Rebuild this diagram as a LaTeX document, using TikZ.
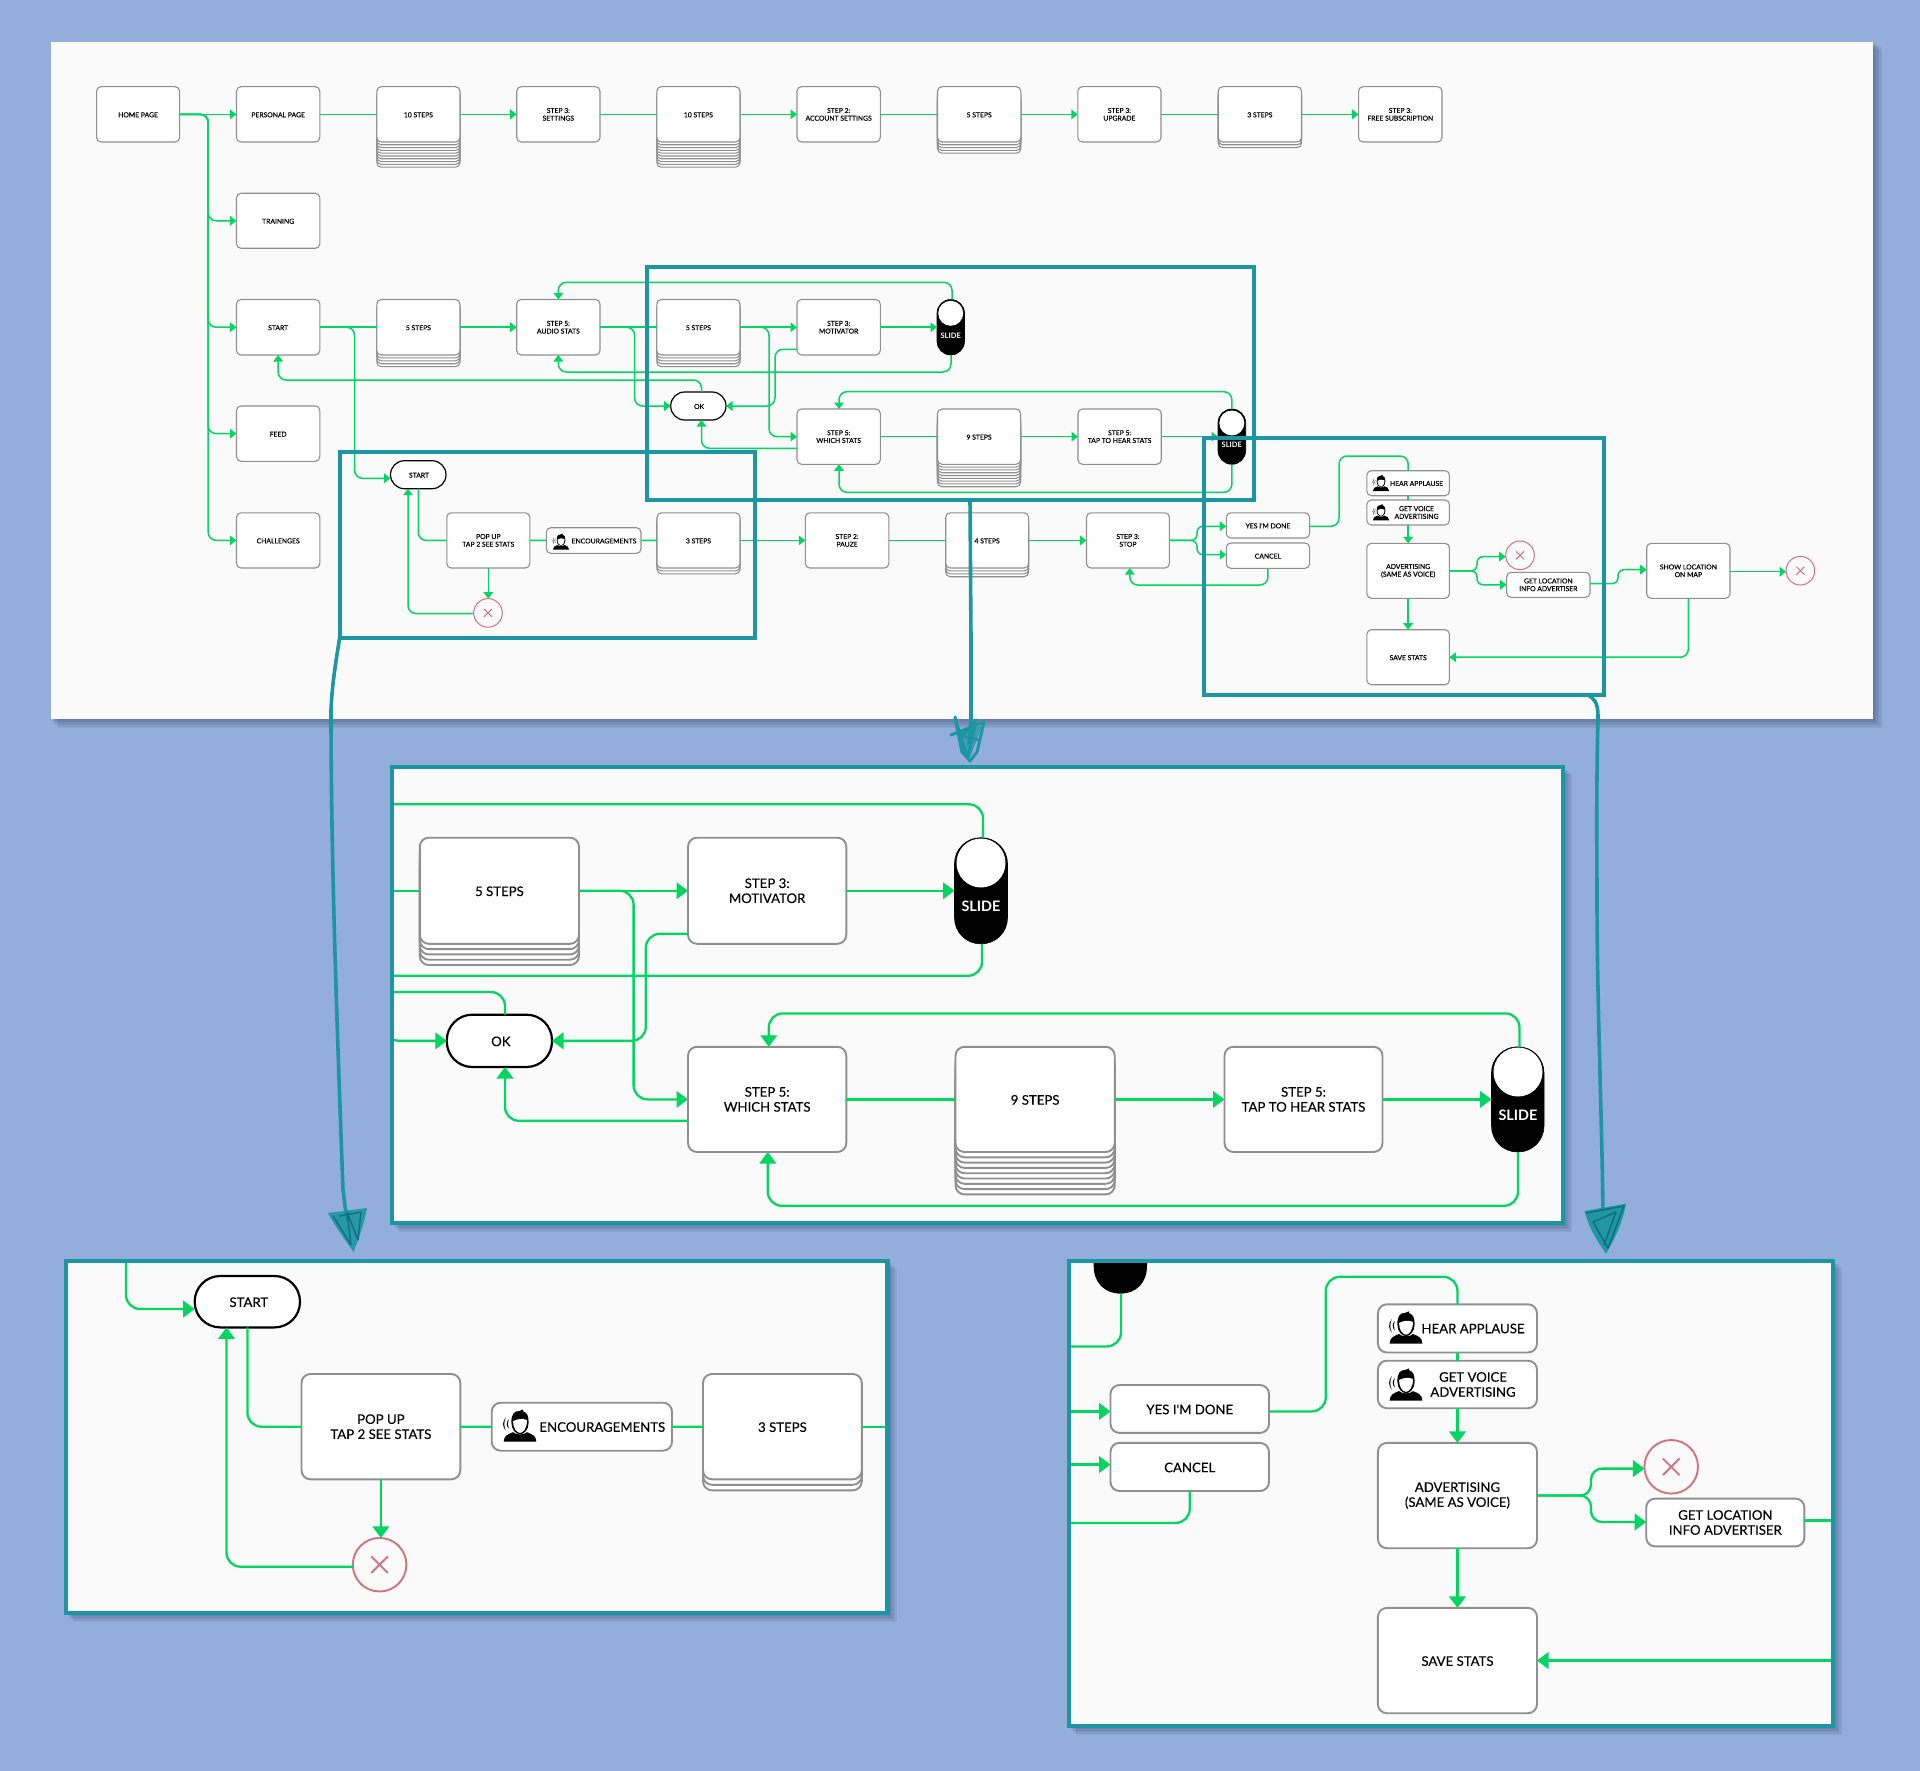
\documentclass[tikz,border=0pt]{standalone}
\usepackage{fontspec}
\setmainfont{Lato}
\newfontfamily\smfont[FakeBold=0.3]{Lato}
\newfontfamily\bgfont[FakeBold=0.15]{Lato}
\usetikzlibrary{arrows.meta}
\definecolor{bgblue}{HTML}{94AEDC}
\definecolor{shadowc}{HTML}{2E3F66}
\definecolor{panelc}{HTML}{FAFAFA}
\definecolor{tealc}{HTML}{1B96A2}
\definecolor{tealdark}{HTML}{0F6F7C}
\definecolor{greenc}{HTML}{02D660}
\definecolor{grayc}{HTML}{8F8F8F}
\definecolor{redc}{HTML}{D2727C}
\tikzset{
  smalltxt/.style={font=\smfont\fontsize{6.8}{7.7}\selectfont,align=center,text=black,execute at begin node={\rule{0pt}{5.9pt}}},
  bigtxt/.style={font=\bgfont\fontsize{13.2}{15}\selectfont,align=center,text=black,execute at begin node={\rule{0pt}{10.6pt}}},
  slidesmall/.style={font=\bfseries\fontsize{7.5}{8}\selectfont,text=white,inner sep=0pt},
  slidebig/.style={font=\bfseries\fontsize{14.4}{15}\selectfont,text=white,inner sep=0pt},
  anybox/.style={draw=grayc,fill=white,inner sep=0pt,outer sep=0pt,rectangle},
  smallbox/.style={anybox,smalltxt,line width=1.1pt,rounded corners=4.5pt},
  bigbox/.style={anybox,bigtxt,line width=1.9pt,rounded corners=9pt},
  smallpill/.style={draw=black,fill=white,inner sep=0pt,outer sep=0pt,rectangle,smalltxt,line width=1.2pt,rounded corners=13.9pt},
  bigpill/.style={draw=black,fill=white,inner sep=0pt,outer sep=0pt,rectangle,bigtxt,line width=2.2pt,rounded corners=25.5pt},
  smallslide/.style={draw=black,fill=black,inner sep=0pt,outer sep=0pt,rectangle,rounded corners=13.7pt,line width=.6pt},
  bigslide/.style={draw=black,fill=black,inner sep=0pt,outer sep=0pt,rectangle,rounded corners=26pt,line width=.6pt},
  knob/.style={circle,fill=white,draw=none,inner sep=0pt,outer sep=0pt},
  smallred/.style={circle,draw=redc,fill=panelc,line width=1pt,inner sep=0pt,outer sep=0pt,minimum size=28.6pt},
  bigred/.style={circle,draw=redc,fill=panelc,line width=1.9pt,inner sep=0pt,outer sep=0pt,minimum size=53.6pt},
  sl/.style={draw=greenc,line width=1.5pt,rounded corners=8pt},
  sa/.style={sl,-{Triangle[length=6.5pt,width=9.5pt]}},
  bl/.style={draw=greenc,line width=2.3pt,rounded corners=14pt},
  ba/.style={bl,-{Triangle[length=11.5pt,width=16.5pt]}},
  hand/.style={draw=tealc,line width=3.6pt,fill=none},
  handthin/.style={draw=tealc,line width=3pt,fill=none},
  frame/.style={draw=tealc,line width=3.8pt},
  panelnode/.style={rectangle,fill=panelc,draw=none,inner sep=0pt,outer sep=0pt},
  person/.pic={
    \fill[black] (-16.3,16) .. controls (-16.3,10) and (-12,8.5) .. (-7,6.5) .. controls (-4,9.5) and (4,9.5) .. (7,6.5) .. controls (12,8.5) and (16.3,10) .. (16.3,16) -- cycle;
    \fill[black] (-8.6,-3) .. controls (-9,-12) and (-5,-15) .. (-1,-14.6) -- (3,-16.2) -- (3.2,-14.4) .. controls (7,-13) and (8.8,-10) .. (8.6,-3) .. controls (8.6,4) and (4,8.6) .. (0,8.6) .. controls (-4,8.6) and (-8.6,4) .. (-8.6,-3) -- cycle;
    \fill[white] (-6.9,-4.5) .. controls (-3.5,-6.5) and (2.5,-8) .. (6.9,-5.6) .. controls (7.2,2.5) and (3,7.2) .. (0,7.2) .. controls (-3,7.2) and (-7.2,2.5) .. (-6.9,-4.5) -- cycle;
    \fill[black] (-11.2,-6.5) .. controls (-14,-3.5) and (-14,0) .. (-11.2,3) .. controls (-12.6,0) and (-12.6,-3.5) .. (-11.2,-6.5) -- cycle;
    \fill[black] (-14.2,-8.5) .. controls (-17.8,-4) and (-17.8,1) .. (-14.2,5) .. controls (-16.2,1) and (-16.2,-4) .. (-14.2,-8.5) -- cycle;
  },
}
\newcommand{\bx}[7]{\node[#1,minimum width=#5pt-#3pt,minimum height=#6pt-#4pt] (#2) at ({(#3+#5)/2},{(#4+#6)/2}) {#7};}
\newcommand{\stk}[7]{\foreach \k in {#6,...,1} {\draw[#1] (#2,{#3+\k*#7}) rectangle (#4,{#5+\k*#7});}}
\newcommand{\shad}[4]{\foreach \i in {1,...,6} {\fill[shadowc,opacity=.085] ({#1+\i*1.1},{#2+\i*1.1}) rectangle ({#3+\i*1.5},{#4+\i*1.5});}}
\begin{document}
\begin{tikzpicture}[x=1pt,y=-1pt]
\useasboundingbox (0,0) rectangle (1920,1771);
\fill[bgblue] (0,0) rectangle (1920,1771);
% ---- shadows and panels
\shad{51}{42}{1873}{719}
\shad{392}{767}{1563}{1223}
\shad{66}{1261}{887.5}{1613}
\shad{1069}{1261}{1833}{1726}
\node[panelnode,minimum width=1822pt,minimum height=677pt] (ptop) at (962,380.5) {};
\node[panelnode,minimum width=1171pt,minimum height=456pt] (pm) at (977.5,995) {};
\node[panelnode,minimum width=821.5pt,minimum height=352pt] (pl) at (476.75,1437) {};
\node[panelnode,minimum width=764pt,minimum height=465pt] (pr) at (1451,1493.5) {};
% ---- overview: row 1
\bx{smallbox}{home}{96.6}{86.7}{179.6}{142}{HOME PAGE}
\bx{smallbox}{personal}{236.5}{86.7}{319.8}{142}{PERSONAL PAGE}
\stk{smallbox}{376.8}{86.7}{460}{142}{9}{2.8}
\bx{smallbox}{tena}{376.8}{86.7}{460}{142}{10 STEPS}
\bx{smallbox}{settings}{516.7}{86.7}{600}{142}{STEP 3:\\SETTINGS}
\stk{smallbox}{656.8}{86.7}{740}{142}{9}{2.8}
\bx{smallbox}{tenb}{656.8}{86.7}{740}{142}{10 STEPS}
\bx{smallbox}{account}{797}{86.7}{880.3}{142}{STEP 2:\\ACCOUNT SETTINGS}
\stk{smallbox}{937.5}{86.7}{1020.8}{142}{4}{2.8}
\bx{smallbox}{fivea}{937.5}{86.7}{1020.8}{142}{5 STEPS}
\bx{smallbox}{upgrade}{1077.8}{86.7}{1161}{142}{STEP 3:\\UPGRADE}
\stk{smallbox}{1218.2}{86.7}{1301.5}{142}{2}{2.8}
\bx{smallbox}{threea}{1218.2}{86.7}{1301.5}{142}{3 STEPS}
\bx{smallbox}{free}{1358.6}{86.7}{1442}{142}{STEP 3:\\FREE SUBSCRIPTION}
% column 2
\bx{smallbox}{training}{236.5}{193.3}{319.8}{248.3}{TRAINING}
\bx{smallbox}{startn}{236.5}{299.5}{319.8}{355}{START}
\bx{smallbox}{feed}{236.5}{406}{319.8}{461.3}{FEED}
\bx{smallbox}{challenges}{236.5}{512.8}{319.8}{568}{CHALLENGES}
% row 3
\stk{smallbox}{376.8}{299.5}{460}{355}{4}{2.9}
\bx{smallbox}{fiveb}{376.8}{299.5}{460}{355}{5 STEPS}
\bx{smallbox}{audio}{516.7}{299.5}{600}{355}{STEP 5:\\AUDIO STATS}
\stk{smallbox}{656.8}{299.5}{740}{355}{4}{2.9}
\bx{smallbox}{fivec}{656.8}{299.5}{740}{355}{5 STEPS}
\bx{smallbox}{motivator}{797}{299.5}{880.3}{355}{STEP 3:\\MOTIVATOR}
\bx{smallslide}{slidea}{937}{299.5}{964.5}{355}{}
\node[knob,minimum size=25pt] (knoba) at (950.7,313.3) {};
\node[slidesmall] (slidealabel) at (950.7,335.9) {SLIDE};
\bx{smallpill}{oka}{670.7}{392}{726}{420}{\hspace*{1.5pt}OK}
\bx{smallbox}{which}{797}{409}{880.3}{464.3}{STEP 5:\\WHICH STATS}
\stk{smallbox}{937.5}{409}{1020.6}{464.3}{8}{2.8}
\bx{smallbox}{ninea}{937.5}{409}{1020.6}{464.3}{9 STEPS}
\bx{smallbox}{tap}{1078}{409}{1161.2}{464.3}{STEP 5:\\TAP TO HEAR STATS}
\bx{smallslide}{slideb}{1218}{409}{1245.7}{464.3}{}
\node[knob,minimum size=25pt] (knobb) at (1231.8,423) {};
\node[slidesmall] (slideblabel) at (1231.8,445) {SLIDE};
% row 5
\bx{smallpill}{starta}{390.5}{460.7}{446}{488.7}{\hspace*{1.5pt}START}
\bx{smallbox}{popup}{446.8}{512.8}{529.8}{568}{POP UP\\TAP 2 SEE STATS}
\bx{smallbox}{encoura}{546.3}{527.7}{641}{553.3}{}
\pic[scale=.5] at (561,541.7) {person};
\node[smalltxt,inner sep=0pt] (encourtxt) at (604,540.5) {ENCOURAGEMENTS};
\stk{smallbox}{657}{512.8}{740}{568}{2}{2.9}
\bx{smallbox}{threeb}{657}{512.8}{740}{568}{3 STEPS}
\bx{smallbox}{pauze}{805.3}{512.8}{888.8}{568}{STEP 2:\\PAUZE}
\stk{smallbox}{945.7}{512.8}{1028.6}{568}{3}{2.9}
\bx{smallbox}{foura}{945.7}{512.8}{1028.6}{568}{4 STEPS}
\bx{smallbox}{stop}{1086.5}{512.8}{1169.4}{568}{STEP 3:\\STOP}
\bx{smallbox}{yes}{1226.3}{512.8}{1309.6}{538}{YES I'M DONE}
\bx{smallbox}{cancel}{1226.3}{543}{1309.6}{568.3}{CANCEL}
\node[smallred] (xa) at (488,612.9) {};
\bx{smallbox}{hear}{1366.9}{470.7}{1449.4}{495.7}{}
\pic[scale=.5] at (1381,483) {person};
\node[smalltxt,inner sep=0pt] (heartxt) at (1416.5,483) {HEAR APPLAUSE};
\bx{smallbox}{voice}{1366.9}{500}{1449.4}{525}{}
\pic[scale=.5] at (1381,512.3) {person};
\node[smalltxt,inner sep=0pt] (voicetxt) at (1416.5,512.5) {GET VOICE\\ADVERTISING};
\bx{smallbox}{adv}{1366.9}{543.3}{1449.4}{598.3}{ADVERTISING\\(SAME AS VOICE)}
\bx{smallbox}{save}{1366.9}{629.7}{1449.4}{684.7}{SAVE STATS}
\node[smallred] (xb) at (1520,555.3) {};
\bx{smallbox}{loc}{1506.6}{572.3}{1590}{597.3}{GET LOCATION\\INFO ADVERTISER}
\bx{smallbox}{map}{1646.7}{543.3}{1730}{598.3}{SHOW LOCATION\\ON MAP}
\node[smallred] (xc) at (1800.4,570.7) {};
% overview connectors
\coordinate (trunk) at (208.2,114.35);
\draw[sa] (home.east) -- (personal.west);
\draw[sa] (home.east) -- (trunk) -- (trunk |- training.west) -- (training.west);
\draw[sa] (home.east) -- (trunk) -- (trunk |- startn.west) -- (startn.west);
\draw[sa] (home.east) -- (trunk) -- (trunk |- feed.west) -- (feed.west);
\draw[sa] (home.east) -- (trunk) -- (trunk |- challenges.west) -- (challenges.west);
\draw[sl] (personal.east) -- (tena.west);
\draw[sa] (tena.east) -- (settings.west);
\draw[sl] (settings.east) -- (tenb.west);
\draw[sa] (tenb.east) -- (account.west);
\draw[sl] (account.east) -- (fivea.west);
\draw[sa] (fivea.east) -- (upgrade.west);
\draw[sl] (upgrade.east) -- (threea.west);
\draw[sa] (threea.east) -- (free.west);
\draw[sl] (startn.east) -- (fiveb.west);
\draw[sa] (fiveb.east) -- (audio.west);
\draw[sa] (startn.east) -- (354.6,327.25) -- (354.6,478.3) -- (starta.west |- 0,478.3);
\draw[sl] (audio.east) -- (fivec.west);
\draw[sa] (fivec.east) -- (motivator.west);
\draw[sa] (motivator.east) -- (slidea.west);
\draw[sa] (audio.east) -- (634.6,327.25) -- (634.6,406) -- (oka.west);
\draw[sa] (oka.north -| 701.5,0) -- (701.5,380) -- (startn.south |- 0,380) -- (startn.south);
\draw[sa] (fivec.east) -- (769,327.25) -- (769,436.65) -- (which.west);
\draw[sa] (motivator.west |- 0,349.3) -- (775,349.3) -- (775,406) -- (oka.east);
\draw[sa] (which.west |- 0,448.3) -- (701.5,448.3) -- (oka.south -| 701.5,0);
\draw[sa] (slidea.north -| 952,0) -- (952,282.3) -- (audio.north |- 0,282.3) -- (audio.north);
\draw[sa] (slidea.south -| 951,0) -- (951,372) -- (audio.south |- 0,372) -- (audio.south);
\draw[sl] (which.east) -- (ninea.west);
\draw[sa] (ninea.east) -- (tap.west);
\draw[sa] (tap.east) -- (slideb.west);
\draw[sa] (slideb.north) -- (slideb.north |- 0,391.7) -- (839,391.7) -- (which.north -| 839,0);
\draw[sa] (slideb.south) -- (slideb.south |- 0,492.3) -- (839,492.3) -- (which.south -| 839,0);
\draw[sl] (starta.south) -- (starta.south |- popup.west) -- (popup.west);
\draw[sa] (popup.south) -- (popup.south |- xa.north);
\draw[sa] (xa.west |- 0,613.5) -- (408,613.5) -- (starta.south -| 408,0);
\draw[sl] (popup.east) -- (encoura.west);
\draw[sl] (encoura.east) -- (threeb.west);
\draw[sa] (threeb.east) -- (pauze.west);
\draw[sl] (pauze.east) -- (foura.west);
\draw[sa] (foura.east) -- (stop.west);
\draw[sa,rounded corners=6pt] (stop.east) -- (1197,540.4) -- (1197,526.3) -- (yes.west |- 0,526.3);
\draw[sa,rounded corners=6pt] (stop.east) -- (1197,540.4) -- (1197,554.7) -- (cancel.west |- 0,554.7);
\draw[sa] (cancel.south) -- (cancel.south |- 0,585) -- (1129.8,585) -- (stop.south -| 1129.8,0);
\draw[sl] (yes.east |- 0,526.3) -- (1339,526.3) -- (1339,456) -- (hear.north |- 0,456) -- (hear.north);
\draw[sl] (hear.south) -- (voice.north);
\draw[sa] (voice.south) -- (adv.north);
\draw[sa] (adv.south) -- (save.north);
\draw[sa,rounded corners=6pt] (adv.east) -- (1477,570.8) -- (1477,556.7) -- (xb.west |- 0,556.7);
\draw[sa,rounded corners=6pt] (adv.east) -- (1477,570.8) -- (1477,584.8) -- (loc.west);
\draw[sa,rounded corners=6pt] (loc.east |- 0,583.7) -- (1618,583.7) -- (1618,569.7) -- (map.west |- 0,569.7);
\draw[sa] (map.east |- 0,571.7) -- (xc.west |- 0,571.7);
\draw[sa] (map.south) -- (map.south |- save.east) -- (save.east);
% ---- middle detail
\stk{bigbox}{419.8}{837.7}{579}{943.8}{4}{5.3}
\bx{bigbox}{mfive}{419.8}{837.7}{579}{943.8}{5 STEPS}
\bx{bigbox}{mmot}{688}{837.7}{846.3}{943.8}{STEP 3:\\MOTIVATOR}
\bx{bigslide}{mslidea}{954.5}{837.7}{1007.5}{943.8}{}
\node[knob,minimum size=49pt] (mknoba) at (981,863) {};
\node[slidebig] (mslidealabel) at (981,906.5) {SLIDE};
\bx{bigpill}{mok}{446.8}{1014.7}{552}{1067}{\hspace*{3pt}OK}
\bx{bigbox}{mwhich}{688}{1046.8}{846.3}{1152}{STEP 5:\\WHICH STATS}
\stk{bigbox}{955.5}{1046.8}{1114.7}{1152}{8}{5.3}
\bx{bigbox}{mnine}{955.5}{1046.8}{1114.7}{1152}{9 STEPS}
\bx{bigbox}{mtap}{1224.5}{1046.8}{1382.5}{1152}{STEP 5:\\TAP TO HEAR STATS}
\bx{bigslide}{mslideb}{1491.5}{1046.8}{1544}{1152}{}
\node[knob,minimum size=49pt] (mknobb) at (1518,1072) {};
\node[slidebig] (mslideblabel) at (1518,1115.5) {SLIDE};
\draw[bl] (pm.west |- 0,804.3) -- (983,804.3) -- (mslidea.north -| 983,0);
\draw[bl] (pm.west |- 0,975.8) -- (982,975.8) -- (mslidea.south -| 982,0);
\draw[bl] (pm.west |- mfive.west) -- (mfive.west);
\draw[ba] (mfive.east) -- (mmot.west);
\draw[ba] (mmot.east) -- (mslidea.west);
\draw[ba] (mfive.east) -- (633.6,890.75) -- (633.6,1099.4) -- (mwhich.west);
\draw[ba] (mmot.west |- 0,933.8) -- (645.8,933.8) -- (645.8,1040.85) -- (mok.east);
\draw[bl] (mok.north -| 505,0) -- (505,992) -- (pm.west |- 0,992);
\draw[ba,rounded corners=4pt] (pm.west |- 0,1039.5) -- (396,1040.85) -- (mok.west);
\draw[ba] (mwhich.west |- 0,1120.8) -- (505,1120.8) -- (mok.south -| 505,0);
\draw[bl] (mwhich.east) -- (mnine.west);
\draw[ba] (mnine.east) -- (mtap.west);
\draw[ba] (mtap.east) -- (mslideb.west);
\draw[ba] (mslideb.north -| 1519.5,0) -- (1519.5,1013.4) -- (768.8,1013.4) -- (mwhich.north -| 768.8,0);
\draw[ba] (mslideb.south -| 1518,0) -- (1518,1205.8) -- (767.8,1205.8) -- (mwhich.south -| 767.8,0);
% ---- left detail
\bx{bigpill}{lstart}{194.7}{1276}{300}{1327.4}{\hspace*{3pt}START}
\bx{bigbox}{lpop}{301.5}{1374}{460.3}{1479.3}{POP UP\\TAP 2 SEE STATS}
\bx{bigbox}{lenc}{491.7}{1402.7}{672}{1450.7}{}
\pic at (520,1425.7) {person};
\node[bigtxt,inner sep=0pt] (lenctxt) at (602.3,1426.5) {ENCOURAGEMENTS};
\stk{bigbox}{703}{1374}{861.8}{1479.3}{2}{5.5}
\bx{bigbox}{lthree}{703}{1374}{861.8}{1479.3}{3 STEPS}
\node[bigred] (lx) at (379.6,1564.7) {};
\coordinate (ltop) at (126,1261);
\draw[ba] (ltop) -- (126,1309) -- (lstart.west |- 0,1309);
\draw[bl] (lstart.south -| 247.4,0) -- (247.4,1426.65) -- (lpop.west);
\draw[ba] (lpop.south) -- (lpop.south |- lx.north);
\draw[ba] (lx.west |- 0,1566.7) -- (226.5,1566.7) -- (lstart.south -| 226.5,0);
\draw[bl] (lpop.east) -- (lenc.west);
\draw[bl] (lenc.east) -- (lthree.west);
\draw[bl] (lthree.east) -- (pl.east |- lthree.east);
% ---- right detail
\begin{scope}
\clip (1069,1261) rectangle (1833,1726);
\fill[black] (1093.7,1240) -- (1093.7,1266) .. controls (1093.7,1283) and (1105,1293.6) .. (1120.4,1293.6) .. controls (1136,1293.6) and (1147,1283) .. (1147,1266) -- (1147,1240) -- cycle;
\end{scope}
\coordinate (rslide) at (1121,1293.6);
\bx{bigbox}{ryes}{1110.5}{1385}{1269}{1432.9}{YES I'M DONE}
\bx{bigbox}{rcancel}{1110.5}{1442.9}{1269}{1491}{CANCEL}
\bx{bigbox}{rhear}{1377.9}{1304.3}{1537}{1352.5}{}
\pic at (1406,1327.5) {person};
\node[bigtxt,inner sep=0pt] (rheartxt) at (1473,1328) {HEAR APPLAUSE};
\bx{bigbox}{rvoice}{1377.9}{1360.7}{1537}{1408.2}{}
\pic at (1406,1384.6) {person};
\node[bigtxt,inner sep=0pt] (rvoicetxt) at (1473,1384.5) {GET VOICE\\ADVERTISING};
\bx{bigbox}{radv}{1377.9}{1442.9}{1537}{1548.2}{ADVERTISING\\(SAME AS VOICE)}
\bx{bigbox}{rsave}{1377.9}{1607.9}{1537}{1713.2}{SAVE STATS}
\node[bigred] (rx) at (1671.2,1466.8) {};
\bx{bigbox}{rloc}{1646.2}{1498.6}{1804.4}{1546.4}{GET LOCATION\\INFO ADVERTISER}
\draw[bl] (rslide) -- (1121,1346.4) -- (pr.west |- 0,1346.4);
\draw[ba] (pr.west |- 0,1411.4) -- (ryes.west |- 0,1411.4);
\draw[ba] (pr.west |- 0,1464.6) -- (rcancel.west |- 0,1464.6);
\draw[bl] (rcancel.south) -- (rcancel.south |- 0,1522.9) -- (pr.west |- 0,1522.9);
\draw[bl] (ryes.east |- 0,1411.4) -- (1325.8,1411.4) -- (1325.8,1276.8) -- (rhear.north |- 0,1276.8) -- (rhear.north);
\draw[bl] (rhear.south) -- (rvoice.north);
\draw[ba] (rvoice.south) -- (radv.north);
\draw[ba] (radv.south) -- (rsave.north);
\draw[ba,rounded corners=11pt] (radv.east) -- (1591,1495.55) -- (1591,1468.6) -- (rx.west |- 0,1468.6);
\draw[ba,rounded corners=11pt] (radv.east) -- (1591,1495.55) -- (1591,1522) -- (rloc.west |- 0,1522);
\draw[bl] (rloc.east |- 0,1520.4) -- (pr.east |- 0,1520.4);
\draw[ba] (pr.east |- rsave.east) -- (rsave.east);
% crosses
\draw[redc,line width=1pt] ([shift={(-4,-4)}]xa.center) -- ([shift={(4,4)}]xa.center) ([shift={(-4,4)}]xa.center) -- ([shift={(4,-4)}]xa.center);
\draw[redc,line width=1pt] ([shift={(-4,-4)}]xb.center) -- ([shift={(4,4)}]xb.center) ([shift={(-4,4)}]xb.center) -- ([shift={(4,-4)}]xb.center);
\draw[redc,line width=1pt] ([shift={(-4,-4)}]xc.center) -- ([shift={(4,4)}]xc.center) ([shift={(-4,4)}]xc.center) -- ([shift={(4,-4)}]xc.center);
\draw[redc,line width=1.9pt] ([shift={(-8.3,-8.3)}]lx.center) -- ([shift={(8.3,8.3)}]lx.center) ([shift={(-8.3,8.3)}]lx.center) -- ([shift={(8.3,-8.3)}]lx.center);
\draw[redc,line width=1.9pt] ([shift={(-8.3,-8.3)}]rx.center) -- ([shift={(8.3,8.3)}]rx.center) ([shift={(-8.3,8.3)}]rx.center) -- ([shift={(8.3,-8.3)}]rx.center);
% ---- frames around the detail panels
\draw[frame,line width=4.4pt] (pm.north west) rectangle (pm.south east);
\draw[frame,line width=4.4pt] (pl.north west) rectangle (pl.south east);
\draw[frame,line width=4.4pt] (pr.north west) rectangle (pr.south east);
% ---- highlight rectangles in the overview
\node[frame,rectangle,fill=none,inner sep=0pt,outer sep=0pt,minimum width=607pt,minimum height=233.3pt] (ra) at (950.8,383.35) {};
\node[frame,rectangle,fill=none,inner sep=0pt,outer sep=0pt,minimum width=415.7pt,minimum height=186.6pt] (rb) at (547.45,545) {};
\node[frame,rectangle,fill=none,inner sep=0pt,outer sep=0pt,minimum width=399.8pt,minimum height=257.3pt] (rc) at (1403.9,566.35) {};
% ---- hand-drawn arrows
\draw[hand] (rb.south west) .. controls (336,660) and (332,685) .. (331,710) .. controls (331,850) and (336,1000) .. (343,1190) -- (347,1222);
\fill[tealc,opacity=.9] (328,1213) -- (367,1208) .. controls (364,1225) and (358,1240) .. (353.6,1252) .. controls (345,1240) and (335,1226) .. (328,1213) -- cycle;
\draw[tealdark,line width=1.4pt,line join=round] (333,1216) -- (351,1245) -- (347,1212) -- (358,1240) -- (361,1212) -- (339,1216);
\draw[hand] (ra.south -| 970,0) -- (971,640) -- (971,720) -- (969,745);
\draw[handthin,line join=round,line cap=round] (951,735) -- (984,722) -- (977,752) -- (970,761) -- (962,752) -- (957,728) -- (955,717) -- (963,745) -- (968,757) -- (976,720) -- (962,736) -- (980,740);
\fill[tealc,opacity=.7] (958,730) -- (982,726) -- (970,758) -- cycle;
\draw[hand] (rc.south -| 1588,0) .. controls (1594,698) and (1598,703) .. (1598,716) .. controls (1596,800) and (1597,860) .. (1597,900) .. controls (1597,1000) and (1602,1120) .. (1603,1215);
\fill[tealc,opacity=.95] (1584.5,1211) -- (1626,1203.6) .. controls (1622,1225) and (1614,1240) .. (1606,1253.6) .. controls (1596,1240) and (1588,1225) .. (1584.5,1211) -- cycle;
\draw[tealdark,line width=1.6pt,line join=round] (1586,1213) -- (1624,1206) -- (1608,1248) -- (1593,1222) -- (1616,1212) -- (1604,1245);
\end{tikzpicture}
\end{document}
